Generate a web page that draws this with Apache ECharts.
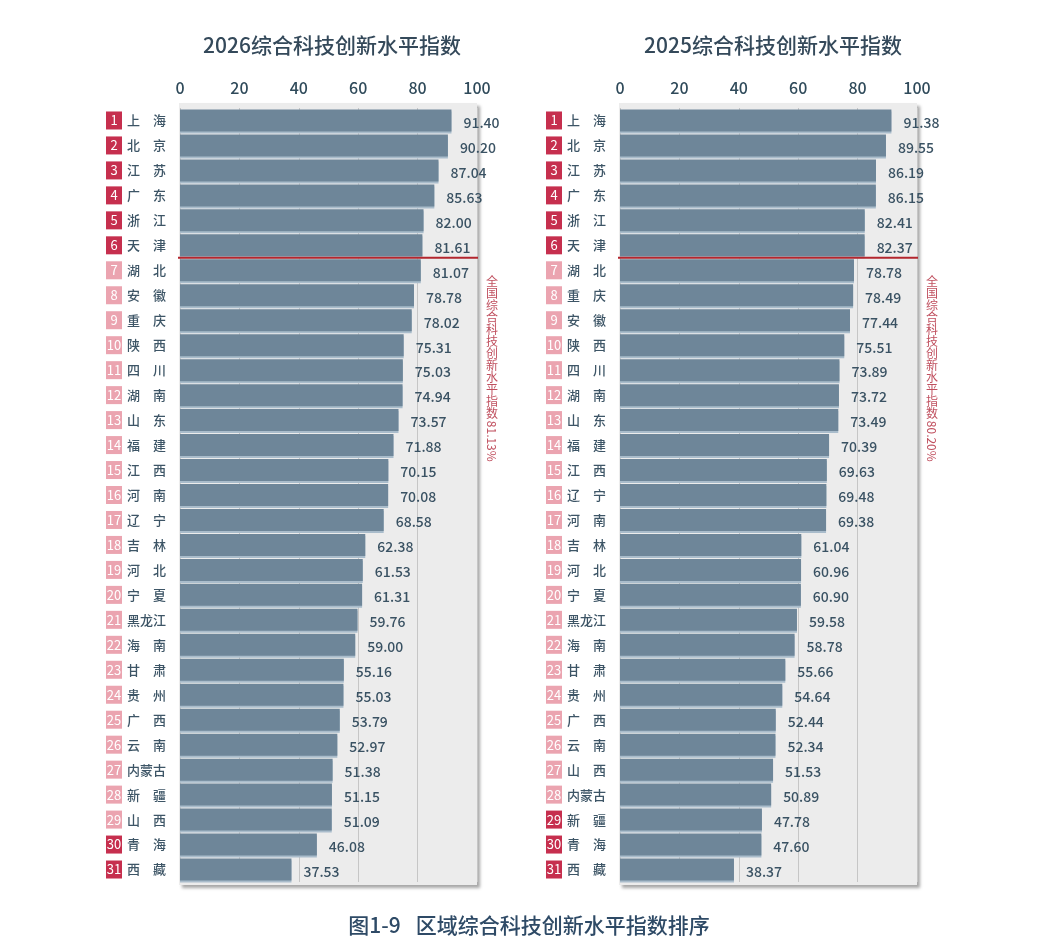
<!DOCTYPE html>
<html>
<head>
<meta charset="utf-8">
<script src="https://cdn.jsdelivr.net/npm/echarts@6/dist/echarts.min.js"></script>
<style>
html, body { margin: 0; background: #fff; }
#main { width: 1056px; height: 942px; }
</style>
</head>
<body>
<div id="main"></div>
<script>
// 2026 ranking
let regions2026 = ['上海','北京','江苏','广东','浙江','天津','湖北','安徽','重庆','陕西','四川','湖南','山东','福建','江西','河南','辽宁','吉林','河北','宁夏','黑龙江','海南','甘肃','贵州','广西','云南','内蒙古','新疆','山西','青海','西藏'];
let values2026 = [91.40,90.20,87.04,85.63,82.00,81.61,81.07,78.78,78.02,75.31,75.03,74.94,73.57,71.88,70.15,70.08,68.58,62.38,61.53,61.31,59.76,59.00,55.16,55.03,53.79,52.97,51.38,51.15,51.09,46.08,37.53];
// 2025 ranking
let regions2025 = ['上海','北京','江苏','广东','浙江','天津','湖北','重庆','安徽','陕西','四川','湖南','山东','福建','江西','辽宁','河南','吉林','河北','宁夏','黑龙江','海南','甘肃','贵州','广西','云南','山西','内蒙古','新疆','青海','西藏'];
let values2025 = [91.38,89.55,86.19,86.15,82.41,82.37,78.78,78.49,77.44,75.51,73.89,73.72,73.49,70.39,69.63,69.48,69.38,61.04,60.96,60.90,59.58,58.78,55.66,54.64,52.44,52.34,51.53,50.89,47.78,47.60,38.37];

let titles = ['2026综合科技创新水平指数', '2025综合科技创新水平指数'];
let nationalText = ['全国综合科技创新水平指数', '全国综合科技创新水平指数'];
let nationalValue = ['81.13%', '80.20%'];
let aboveCount = [6, 6];        // regions above the national level
let bottomDark = [2, 3];        // dark badges at the bottom
let caption = '图1-9\u2002 区域综合科技创新水平指数排序';

let regions = [regions2026, regions2025];
let values = [values2026, values2025];

let gridLeft = [180, 620];
let gridTop = 108, gridW = 297, gridH = 774;

let myChart = echarts.init(document.getElementById('main'));

function nameLabel(list, k) {
    return function (value, index) {
        let dark = index < aboveCount[k] || index >= list.length - bottomDark[k];
        let nm = value.length == 2 ? value[0] + '\u3000' + value[1] : value;
        return '{' + (dark ? 'd' : 'l') + '|' + (index + 1) + '}{n|' + nm + '}';
    };
}

let badge = { color: '#fff', width: 16, height: 18, lineHeight: 18, align: 'center', fontSize: 13 };

let grids = [], xAxes = [], yAxes = [], series = [];
for (let k = 0; k < 2; k++) {
    grids.push({ left: gridLeft[k], top: gridTop, width: gridW, height: gridH });
    xAxes.push({
        gridIndex: k, type: 'value', position: 'top', min: 0, max: 100, interval: 20,
        axisLine: { show: false }, axisTick: { show: false },
        axisLabel: { color: '#2f4a5a', fontSize: 16, fontWeight: 500, margin: 12 },
        splitLine: { show: true, lineStyle: { color: '#c6c6c6', width: 1 } }
    });
    yAxes.push({
        gridIndex: k, type: 'category', inverse: true, data: regions[k],
        axisLine: { show: false }, axisTick: { show: false },
        axisLabel: {
            margin: 14,
            formatter: nameLabel(regions[k], k),
            rich: {
                d: Object.assign({ backgroundColor: '#c62f4e' }, badge),
                l: Object.assign({ backgroundColor: '#eba4b0' }, badge),
                n: { color: '#3d5566', fontSize: 13, fontWeight: 500, padding: [0, 0, 0, 5] }
            }
        }
    });
    series.push({
        type: 'bar', xAxisIndex: k, yAxisIndex: k, data: values[k],
        barWidth: 22,
        itemStyle: { color: '#6e8699', shadowColor: '#a9bccb', shadowOffsetY: 2, shadowBlur: 0 },
        label: {
            show: true, position: 'right', distance: 12, offset: [0, 2],
            color: '#3a5263', fontSize: 14, fontWeight: 500,
            formatter: function (p) { return p.value.toFixed(2); }
        }
    });
}

myChart.setOption({
    animation: false,
    textStyle: { fontFamily: '"Noto Sans CJK SC", "Noto Sans", sans-serif' },
    title: [
        { text: titles[0], left: 327, top: 30, textAlign: 'center', textStyle: { fontSize: 21, fontWeight: 500, color: '#34495a' } },
        { text: titles[1], left: 768, top: 30, textAlign: 'center', textStyle: { fontSize: 21, fontWeight: 500, color: '#34495a' } },
        { text: caption, left: 524, top: 910, textAlign: 'center', textStyle: { fontSize: 21, fontWeight: 500, color: '#2e4a66' } }
    ],
    grid: grids,
    xAxis: xAxes,
    yAxis: yAxes,
    series: series
});

// panel, national-level line and vertical note
let graphic = [];
for (let k = 0; k < 2; k++) {
    let x0 = myChart.convertToPixel({ xAxisIndex: k }, 0);
    let x1 = myChart.convertToPixel({ xAxisIndex: k }, 100);
    let ya = myChart.convertToPixel({ yAxisIndex: k }, aboveCount[k] - 1);
    let yb = myChart.convertToPixel({ yAxisIndex: k }, aboveCount[k]);
    let yLine = (ya + yb) / 2;
    graphic.push({
        type: 'rect', z: -1,
        shape: { x: x0 - 1, y: gridTop - 5, width: x1 - x0 + 1, height: gridH + 8 },
        style: { fill: '#ececec', shadowColor: 'rgba(0,0,0,0.35)', shadowBlur: 3, shadowOffsetX: 3, shadowOffsetY: 3 }
    });
    graphic.push({
        type: 'line', z: 10,
        shape: { x1: x0 - 2, y1: yLine, x2: x1 + 1, y2: yLine },
        style: { stroke: '#b3262e', lineWidth: 2 }
    });
    let tx = x1 + 15;
    let ty = yLine + 18;
    graphic.push({
        type: 'text', z: 10, x: tx, y: ty,
        style: {
            text: nationalText[k].split('').join('\n'),
            fill: '#c0505f', fontSize: 12, lineHeight: 12,
            align: 'center', verticalAlign: 'top',
            fontFamily: '"Noto Sans CJK SC", sans-serif'
        }
    });
    graphic.push({
        type: 'text', z: 10, x: tx, y: ty + nationalText[k].length * 12 + 1,
        rotation: -Math.PI / 2,
        style: {
            text: nationalValue[k], fill: '#c0505f', fontSize: 12,
            align: 'left', verticalAlign: 'middle',
            fontFamily: '"Noto Sans CJK SC", sans-serif'
        }
    });
}
myChart.setOption({ graphic: graphic });
</script>
</body>
</html>
